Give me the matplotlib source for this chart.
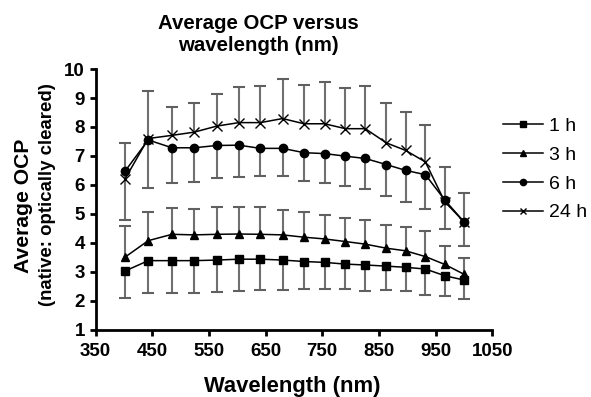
import matplotlib
matplotlib.use("Agg")
from matplotlib import pyplot as plt
import numpy as np

plt.rcParams['font.family'] = ['Liberation Sans', 'DejaVu Sans']

# wavelengths (nm)
wavelength = np.array([402, 443, 485, 524, 564, 603, 641, 680, 718, 754, 791, 826, 863, 897, 932, 966, 1000])

# mean OCP per incubation time
ocp_1h = np.array([3.02, 3.38, 3.38, 3.38, 3.40, 3.43, 3.43, 3.40, 3.35, 3.32, 3.26, 3.23, 3.19, 3.15, 3.09, 2.86, 2.71])
ocp_3h = np.array([3.50, 4.07, 4.29, 4.27, 4.29, 4.30, 4.29, 4.27, 4.19, 4.13, 4.04, 3.95, 3.81, 3.72, 3.52, 3.25, 2.91])
ocp_6h = np.array([6.47, 7.55, 7.28, 7.28, 7.36, 7.37, 7.26, 7.26, 7.11, 7.08, 6.99, 6.91, 6.70, 6.50, 6.35, 5.48, 4.72])
ocp_24h = np.array([6.20, 7.60, 7.71, 7.82, 8.03, 8.15, 8.15, 8.29, 8.11, 8.11, 7.94, 7.94, 7.45, 7.19, 6.79, 5.42, 4.72])

# one-sided error bars: 1 h and 6 h drawn below, 3 h and 24 h drawn above
err_1h = np.array([0.93, 1.13, 1.13, 1.13, 1.10, 1.10, 1.07, 1.04, 0.95, 0.93, 0.87, 0.89, 0.83, 0.82, 0.90, 0.70, 0.64])
err_3h = np.array([1.08, 1.00, 0.91, 0.90, 0.94, 0.93, 0.93, 0.87, 0.87, 0.84, 0.83, 0.84, 0.81, 0.82, 0.87, 0.65, 0.57])
err_6h = np.array([1.68, 1.66, 1.21, 1.19, 1.12, 1.10, 0.95, 0.96, 0.99, 1.01, 1.04, 1.04, 1.07, 1.09, 1.19, 1.00, 0.83])
err_24h = np.array([1.23, 1.65, 0.99, 1.02, 1.10, 1.24, 1.27, 1.36, 1.35, 1.43, 1.40, 1.48, 1.37, 1.34, 1.28, 1.19, 1.00])

labels = ['1 h', '3 h', '6 h', '24 h']
markers = ['s', '^', 'o', 'x']
msizes = [6, 5.5, 6, 6.5]
direction = [-1, 1, -1, 1]

fig = plt.figure(figsize=(5.91, 3.97), dpi=100)
ax = fig.add_axes([0.1616, 0.170, 0.6714, 0.656])

series = [(ocp_1h, err_1h), (ocp_3h, err_3h), (ocp_6h, err_6h), (ocp_24h, err_24h)]
handles = []
for (y, e), lab, mk, ms, d in zip(series, labels, markers, msizes, direction):
    end = y + d * e
    ax.vlines(wavelength, y, end, color='#707070', linewidth=1.5, zorder=1)
    ax.plot(wavelength, end, ls='none', marker='_', markersize=8, markeredgewidth=1.5,
            color='#606060', zorder=1)
    h, = ax.plot(wavelength, y, color='black', marker=mk, markersize=ms,
                 markeredgewidth=1.0, linewidth=1.1, label=lab, zorder=3)
    handles.append(h)

ax.set_xlim(350, 1050)
ax.set_ylim(1, 10)
ax.set_xticks(np.arange(350, 1051, 100))
ax.set_yticks(np.arange(1, 11, 1))
ax.spines['top'].set_visible(False)
ax.spines['right'].set_visible(False)
ax.spines['left'].set_linewidth(2)
ax.spines['bottom'].set_linewidth(2)
ax.tick_params(direction='out', length=4.5, width=2, labelsize=13.5)
ax.tick_params(axis='x', pad=5)
ax.tick_params(axis='y', pad=3)
for t in ax.get_xticklabels() + ax.get_yticklabels():
    t.set_fontweight('bold')

fig.text(0.438, 0.914, "Average OCP versus\nwavelength (nm)", ha='center', va='center',
         fontsize=14.7, fontweight='bold', linespacing=1.2)
fig.text(0.494, 0.027, "Wavelength (nm)", ha='center', va='center',
         fontsize=15.8, fontweight='bold')
fig.text(0.040, 0.482, "Average OCP", ha='center', va='center', rotation=90,
         fontsize=15.2, fontweight='bold')
fig.text(0.080, 0.509, "(native: optically cleared)", ha='center', va='center', rotation=90,
         fontsize=13.4, fontweight='bold')

leg = ax.legend(handles=handles, loc='upper left', bbox_to_anchor=(0.851, 0.705),
                bbox_transform=fig.transFigure, frameon=False, fontsize=14,
                handlelength=2.06, handletextpad=0.3, labelspacing=0.58,
                borderpad=0, borderaxespad=0, markerscale=0.75)

fig.savefig("out.png", dpi=100)
